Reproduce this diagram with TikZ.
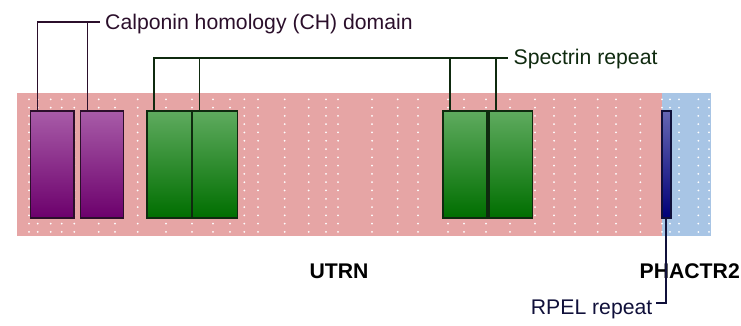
\documentclass[tikz,border=0pt]{standalone}
\usepackage{fontspec}
\setmainfont{Liberation Sans}
\usetikzlibrary{calc}
\definecolor{pinkbg}{HTML}{E6A5A5}
\definecolor{bluebg}{HTML}{A8C5E5}
\definecolor{chtop}{HTML}{A85CA8}
\definecolor{chbot}{HTML}{6C006C}
\definecolor{chdark}{HTML}{2B0F2B}
\definecolor{srtop}{HTML}{5FAB5F}
\definecolor{srbot}{HTML}{006E00}
\definecolor{srdark}{HTML}{0F2A0F}
\definecolor{rptop}{HTML}{6666B3}
\definecolor{rpbot}{HTML}{000077}
\definecolor{rpdark}{HTML}{10103A}
\begin{document}
\begin{tikzpicture}[x=1pt,y=-1pt,
  bgbox/.style={draw=none, inner sep=0pt, outer sep=0pt, minimum height=143pt, anchor=north west},
  dom/.style={inner sep=0pt, outer sep=0pt, line width=1.8pt, minimum height=107pt, anchor=north west},
  chbox/.style={dom, draw=chdark, top color=chtop, bottom color=chbot},
  srbox/.style={dom, draw=srdark, top color=srtop, bottom color=srbot},
  rpbox/.style={dom, draw=rpdark, top color=rptop, bottom color=rpbot},
  lab/.style={font=\fontsize{21.2}{25}\selectfont, inner sep=0pt},
  glab/.style={lab, font=\fontsize{21.2}{25}\selectfont\bfseries, text=black},
  conn/.style={line width=1.8pt}
]
\useasboundingbox (0,0) rectangle (741,326);
% backgrounds
\node[bgbox, fill=pinkbg, minimum width=645pt] (utrnbg) at (17,93) {};
\node[bgbox, fill=bluebg, minimum width=49pt] (phbg) at (662,93) {};
% dots
\foreach \x in {29,37.7,50.7,61.7,74.3,98.7,115,137.7,166,192,213,230,244.3,258,284.7,308.7,326,338,372,397.7,418,448,464,486,510,535,554,575,597.7,616,640.3,662,670,679,698.3,709}{
  \foreach \k in {0,...,16}{
    \fill[white] (\x,99.3+8.29*\k) circle (1pt);
  }
}
% domains
\node[chbox, minimum width=43.5pt] (ch1) at (30.5,110.7) {};
\node[chbox, minimum width=43pt] (ch2) at (80.5,110.7) {};
\node[srbox, minimum width=45pt] (sr1) at (147,110.7) {};
\node[srbox, minimum width=45pt] (sr2) at (192.5,110.7) {};
\node[srbox, minimum width=44.3pt] (sr3) at (443,110.7) {};
\node[srbox, minimum width=43.6pt] (sr4) at (488.8,110.7) {};
\node[rpbox, minimum width=8.6pt] (rpel) at (662,110.7) {};
% labels
\node[lab, text=chdark, anchor=base west] (chlab) at (105,30) {Calponin homology (CH) domain};
\node[lab, text=srdark, anchor=base west] (srlab) at (513.5,65) {Spectrin repeat};
\node[lab, text=rpdark, anchor=base east] (rplab) at (652.5,314) {RPEL repeat};
\node[glab, anchor=base] (utrn) at (339,278) {UTRN};
\node[glab, anchor=base east] (phactr) at (740,278.5) {PHACTR2};
\coordinate (chend) at (100,22.3);
\coordinate (srend) at (507.7,57.7);
\coordinate (rpend) at (656,303.3);
\foreach \n in {ch1,ch2,sr1,sr2,sr3,sr4}{
  \coordinate (\n t) at ($(\n.north west)+(7,0)$);
}
% connectors
\draw[conn, draw=chdark] (ch1t) |- (chend);
\draw[conn, draw=chdark] (ch2t) -- (ch2t |- chend);
\draw[conn, draw=srdark] (sr1t) |- (srend);
\draw[conn, draw=srdark] (sr2t) -- (sr2t |- srend);
\draw[conn, draw=srdark] (sr3t) -- (sr3t |- srend);
\draw[conn, draw=srdark] (sr4t) -- (sr4t |- srend);
\draw[conn, draw=rpdark] (rpel.south) |- (rpend);
\end{tikzpicture}
\end{document}
